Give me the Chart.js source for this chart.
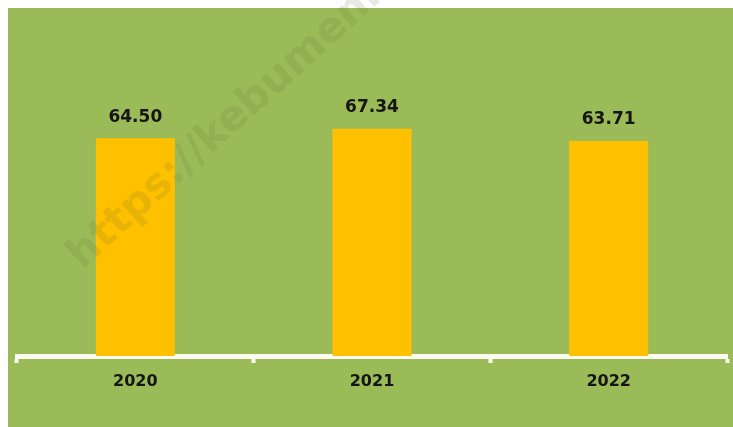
<!DOCTYPE html>
<html>
<head>
<meta charset="utf-8">
<script src="https://cdn.jsdelivr.net/npm/chart.js@4"></script>
<style>
  html, body { margin: 0; padding: 0; background: #ffffff; }
  #wrap { position: relative; width: 733px; height: 427px; }
</style>
</head>
<body>
<div id="wrap"><canvas id="barChart"></canvas></div>
<script>
const years = ['2020', '2021', '2022'];
const values = [64.50, 67.34, 63.71];

// white frame on top/left, green panel behind the plot
const panelBg = {
    id: 'panelBg',
    beforeDraw(chart) {
        const ctx = chart.ctx;
        ctx.save();
        ctx.fillStyle = '#ffffff';
        ctx.fillRect(0, 0, chart.width, chart.height);
        ctx.fillStyle = '#9bbb59';
        ctx.fillRect(8, 8, chart.width - 8, chart.height - 8);
        ctx.restore();
    }
};

// value printed above each bar
const valueLabels = {
    id: 'valueLabels',
    afterDatasetsDraw(chart) {
        const ctx = chart.ctx;
        const meta = chart.getDatasetMeta(0);
        ctx.save();
        ctx.font = 'bold 17px "DejaVu Sans"';
        ctx.fillStyle = '#151515';
        ctx.textAlign = 'center';
        ctx.textBaseline = 'middle';
        meta.data.forEach((bar, i) => {
            ctx.fillText(values[i].toFixed(2), bar.x, bar.y - 21);
        });
        ctx.restore();
    }
};

// faint site stamp across the panel
const stamp = {
    id: 'stamp',
    afterDraw(chart) {
        const ctx = chart.ctx;
        ctx.save();
        ctx.translate(82, 270);
        ctx.rotate(-42 * Math.PI / 180);
        ctx.font = 'bold 42px "DejaVu Sans"';
        ctx.fillStyle = 'rgba(100, 106, 45, 0.15)';
        ctx.textBaseline = 'alphabetic';
        ctx.fillText('https://kebumenkab.bps.go.id', 0, 0);
        ctx.restore();
    }
};

new Chart(document.getElementById('barChart'), {
    type: 'bar',
    data: {
        labels: years,
        datasets: [{
            data: values,
            backgroundColor: '#ffc000',
            borderWidth: 0,
            categoryPercentage: 1,
            barPercentage: 0.334
        }]
    },
    options: {
        responsive: true,
        maintainAspectRatio: false,
        animation: false,
        layout: { padding: { left: 17, right: 6, top: 86, bottom: 0 } },
        plugins: {
            legend: { display: false },
            tooltip: { enabled: false }
        },
        scales: {
            x: {
                z: 1,
                grid: {
                    drawOnChartArea: false,
                    drawTicks: true,
                    tickLength: 7,
                    tickWidth: 4,
                    tickColor: '#fbfbf0',
                    color: '#fbfbf0'
                },
                border: { display: true, color: '#fbfbf0', width: 5 },
                ticks: {
                    padding: 9,
                    color: '#151515',
                    font: { family: 'DejaVu Sans', size: 16, weight: 'bold' }
                },
                afterFit(scale) { scale.height = 71; }
            },
            y: {
                display: false,
                min: 0,
                max: 80
            }
        }
    },
    plugins: [panelBg, valueLabels, stamp]
});
</script>
</body>
</html>
